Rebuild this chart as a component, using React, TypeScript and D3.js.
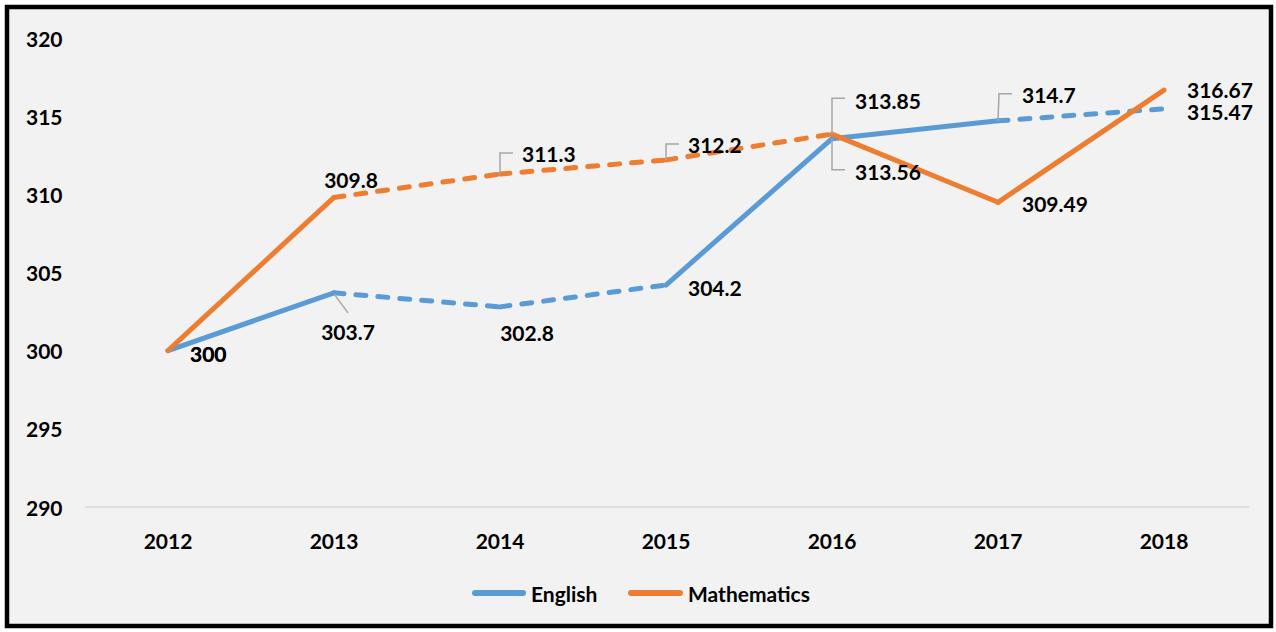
import React from "react";
import * as d3 from "d3";

const years = ["2012", "2013", "2014", "2015", "2016", "2017", "2018"];
const englishValues = [300, 303.7, 302.8, 304.2, 313.56, 314.7, 315.47];
const mathValues = [300, 309.8, 311.3, 312.2, 313.85, 309.49, 316.67];
// dashed flag for segment i -> i+1
const englishDashed = [false, true, true, false, false, true];
const mathDashed = [false, true, true, true, false, false];
const yTicks = [290, 295, 300, 305, 310, 315, 320];

type LabelPos = { dx: number; dy: number; anchor: string; leader?: number[][] };
const englishLabelPos: LabelPos[] = [
  { dx: 22, dy: 3, anchor: "start" },
  { dx: 14, dy: 39, anchor: "middle", leader: [[0, 1], [14, 20]] },
  { dx: 27, dy: 26, anchor: "middle" },
  { dx: 22, dy: 2, anchor: "start" },
  { dx: 23, dy: 33, anchor: "start", leader: [[0, 0], [0, 31], [13, 31]] },
  { dx: 24, dy: -26, anchor: "start", leader: [[0, 0], [1, -27], [14, -27]] },
  { dx: 23, dy: 3, anchor: "start" },
];
const mathLabelPos: LabelPos[] = [
  { dx: 22, dy: 3, anchor: "start" },
  { dx: 17, dy: -18, anchor: "middle" },
  { dx: 22, dy: -21, anchor: "start", leader: [[0, 0], [0, -21], [13, -21]] },
  { dx: 22, dy: -15, anchor: "start", leader: [[0, 0], [0, -16], [13, -16]] },
  { dx: 23, dy: -34, anchor: "start", leader: [[0, 0], [0, -36], [13, -36]] },
  { dx: 24, dy: 1, anchor: "start" },
  { dx: 23, dy: -1, anchor: "start" },
];

const W = 1276;
const H = 632;
const FONT = "Lato, 'Open Sans', sans-serif";
const BLUE = "#5b9bd5";
const ORANGE = "#ed7d31";

export default function App() {
  const x = d3.scalePoint<string>().domain(years).range([85, 1247]).padding(0.5);
  const y = d3.scaleLinear().domain([290, 320]).range([507, 38]);

  const seg = (vals: number[], dashed: boolean[], color: string, key: string) => {
    const line = d3
      .line<[number, number]>()
      .x((d) => d[0])
      .y((d) => d[1]);
    return dashed.map((ds, i) => (
      <path
        key={key + i}
        d={line([
          [x(years[i])!, y(vals[i])],
          [x(years[i + 1])!, y(vals[i + 1])],
        ]) || ""}
        fill="none"
        stroke={color}
        strokeWidth={5}
        strokeLinecap="round"
        strokeDasharray={ds ? "10,12" : undefined}
      />
    ));
  };

  const labels = (vals: number[], pos: LabelPos[], key: string) =>
    vals.map((v, i) => {
      const px = x(years[i])!;
      const py = y(v);
      const p = pos[i];
      return (
        <g key={key + i}>
          {p.leader && (
            <polyline
              points={p.leader.map((q) => `${px + q[0]},${py + q[1]}`).join(" ")}
              fill="none"
              stroke="#a6a6a6"
              strokeWidth={1.5}
            />
          )}
          <text
            x={px + p.dx}
            y={py + p.dy}
            textAnchor={p.anchor}
            dominantBaseline="central"
            fontFamily={FONT}
            fontWeight="bold"
            fontSize={21}
            fill="#000"
          >
            {String(v)}
          </text>
        </g>
      );
    });

  return (
    <svg
      width={W}
      height={H}
      style={{ position: "absolute", left: 0, top: 0, display: "block" }}
    >
      <rect x={0} y={0} width={W} height={H} fill="#ffffff" />
      <rect x={7} y={7} width={1264} height={619} fill="#f2f2f2" stroke="#000" strokeWidth={4.5} />
      <line x1={85} x2={1249} y1={y(290)} y2={y(290)} stroke="#d9d9d9" strokeWidth={1.5} />
      {yTicks.map((t) => (
        <text
          key={t}
          x={26}
          y={y(t)}
          dominantBaseline="central"
          fontFamily={FONT}
          fontWeight="bold"
          fontSize={21}
          fill="#000"
        >
          {t}
        </text>
      ))}
      {years.map((yr) => (
        <text
          key={yr}
          x={x(yr)!}
          y={540}
          textAnchor="middle"
          dominantBaseline="central"
          fontFamily={FONT}
          fontWeight="bold"
          fontSize={21}
          fill="#000"
        >
          {yr}
        </text>
      ))}
      {seg(englishValues, englishDashed, BLUE, "e")}
      {seg(mathValues, mathDashed, ORANGE, "m")}
      {labels(englishValues, englishLabelPos, "el")}
      {labels(mathValues, mathLabelPos, "ml")}
      <g>
        <line x1={475} x2={523} y1={593} y2={593} stroke={BLUE} strokeWidth={6} strokeLinecap="round" />
        <text x={531} y={593} dominantBaseline="central" fontFamily={FONT} fontWeight="bold" fontSize={21}>
          English
        </text>
        <line x1={631} x2={680} y1={593} y2={593} stroke={ORANGE} strokeWidth={6} strokeLinecap="round" />
        <text x={688} y={593} dominantBaseline="central" fontFamily={FONT} fontWeight="bold" fontSize={21}>
          Mathematics
        </text>
      </g>
    </svg>
  );
}
